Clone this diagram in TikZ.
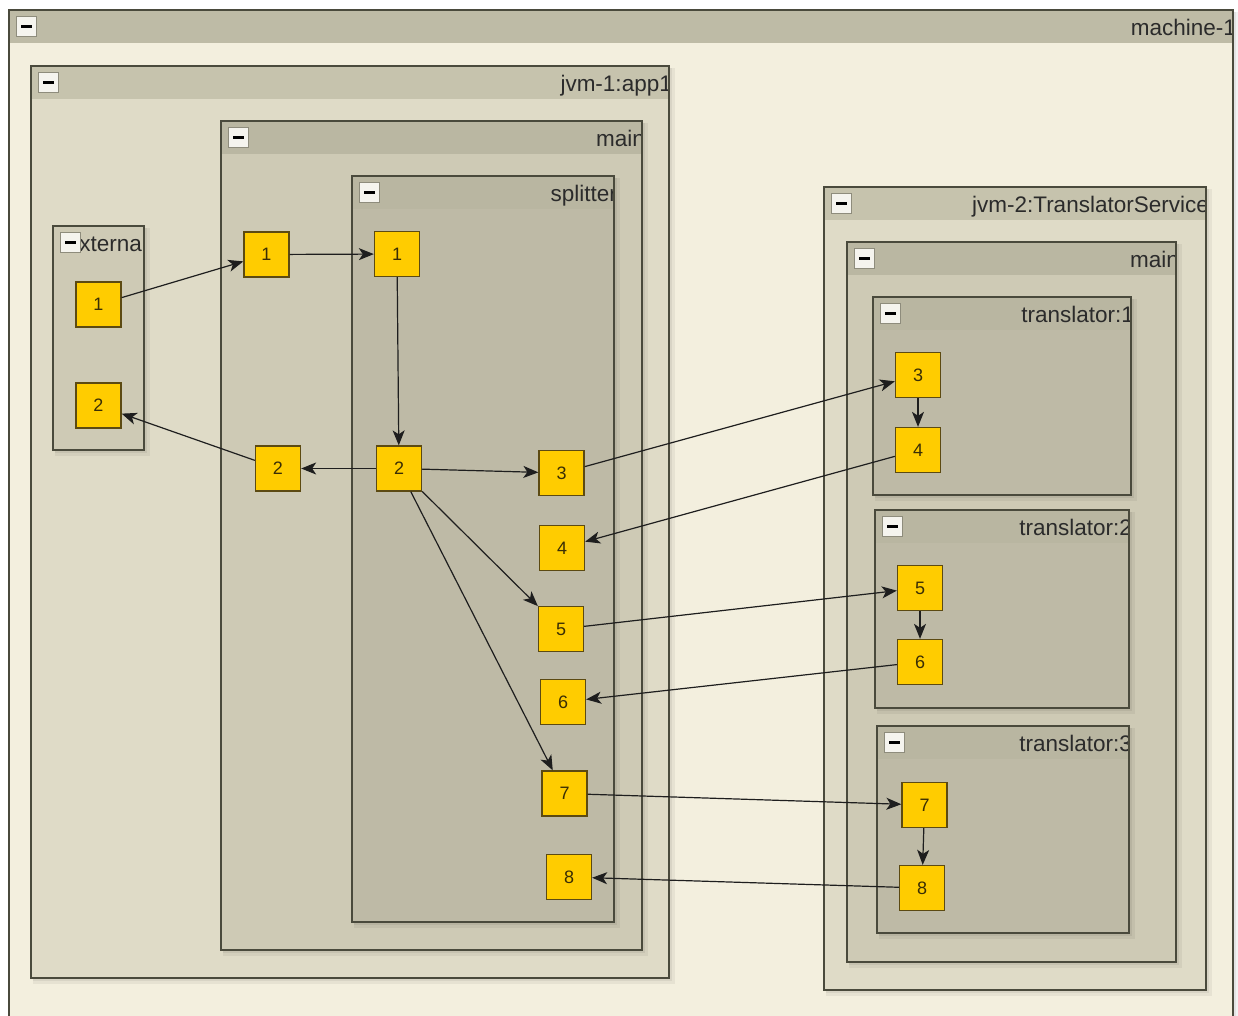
\documentclass[tikz,border=0pt]{standalone}
\usepackage{fontspec}
\setmainfont{Liberation Sans}
\usetikzlibrary{arrows.meta}

\definecolor{machinebg}{HTML}{F3EFDE}
\definecolor{machinehd}{HTML}{BEBBA6}
\definecolor{jvmbg}{HTML}{DFDBC7}
\definecolor{jvmhd}{HTML}{C6C3AD}
\definecolor{threadbg}{HTML}{CECAB5}
\definecolor{threadhd}{HTML}{BAB7A2}
\definecolor{taskbg}{HTML}{BEBAA6}
\definecolor{taskhd}{HTML}{B9B6A1}
\definecolor{framecol}{HTML}{4A4A3C}
\definecolor{iconfill}{HTML}{F5F4EE}
\definecolor{iconline}{HTML}{8E8C7C}
\definecolor{portfill}{HTML}{FFCC00}
\definecolor{portline}{HTML}{5C4A12}
\definecolor{porttext}{HTML}{3A2E05}
\definecolor{wirecol}{HTML}{1E1E1E}
\definecolor{labelcol}{HTML}{2B2B2B}

\tikzset{
  frame/.style={draw=framecol, line width=1.3pt},
  boxlabel/.style={inner sep=0pt, text=labelcol, font=\fontsize{22.5}{27}\selectfont},
  minusicon/.style={draw=iconline, fill=iconfill, line width=0.8pt,
    minimum size=20pt, inner sep=0pt},
  port/.style={draw=portline, fill=portfill, line width=1.3pt,
    minimum size=45pt, inner sep=0pt, text=porttext,
    font=\fontsize{18}{21}\selectfont},
  wire/.style={draw=wirecol, line width=1.2pt,
    -{Stealth[length=15pt,width=12pt,inset=4pt]}},
}

% container with title bar, collapse toggle and clipped right-aligned title
% #1 name, #2 x1, #3 y1, #4 x2, #5 y2, #6 body colour, #7 header colour, #8 title
\newcommand{\groupbox}[8]{%
  \fill[black,opacity=.05] (#2+2,#3+2) rectangle (#4+6,#5+6);
  \fill[black,opacity=.06] (#2+2,#3+2) rectangle (#4+3,#5+3);
  \fill[#6] (#2,#3) rectangle (#4,#5);
  \fill[#7] (#2,#3) rectangle (#4,#3+33);
  \begin{scope}
    \clip (#2,#3) rectangle (#4,#5);
    \node[boxlabel, anchor=base east] (#1-title) at (#4+3,#3+25.5) {#8};
  \end{scope}
  \draw[frame] (#2,#3) rectangle (#4,#5);
  \node[minusicon] (#1-toggle) at (#2+17.5,#3+16.5) {\rule{11pt}{3pt}};
}

\begin{document}
\begin{tikzpicture}[x=1pt,y=-1pt]
  \useasboundingbox (0,0) rectangle (1238,1016);
  \clip (0,0) rectangle (1238,1016);
  \fill[white] (0,0) rectangle (1238,1016);

  % host
  \groupbox{machine}{9}{10}{1233}{1040}{machinebg}{machinehd}{machine-1}

  % first JVM
  \groupbox{jvmA}{31}{66}{669}{978}{jvmbg}{jvmhd}{jvm-1:app1}
  \groupbox{ext}{53}{226}{144}{450}{threadbg}{threadbg}{external}
  \groupbox{mainA}{221}{121}{642}{950}{threadbg}{threadhd}{main}
  \groupbox{splitter}{352}{176}{614}{922}{taskbg}{taskhd}{splitter}

  % second JVM
  \groupbox{jvmB}{824}{187}{1206}{990}{jvmbg}{jvmhd}{jvm-2:TranslatorService}
  \groupbox{mainB}{847}{242}{1176}{962}{threadbg}{threadhd}{main}
  \groupbox{trA}{873}{297}{1131}{495}{taskbg}{taskhd}{translator:1}
  \groupbox{trB}{875}{510}{1129}{708}{taskbg}{taskhd}{translator:2}
  \groupbox{trC}{877}{726}{1129}{933}{taskbg}{taskhd}{translator:3}

  % ports
  \node[port] (e1) at (98.5,304.5) {1};
  \node[port] (e2) at (98.5,405.5) {2};
  \node[port] (m1) at (266.5,254.5) {1};
  \node[port] (m2) at (278,468.5) {2};
  \node[port] (s1) at (397,254) {1};
  \node[port] (s2) at (399,468.5) {2};
  \node[port] (s3) at (561.5,473) {3};
  \node[port] (s4) at (562,548) {4};
  \node[port] (s5) at (561,629) {5};
  \node[port] (s6) at (563,702) {6};
  \node[port] (s7) at (564.5,793.5) {7};
  \node[port] (s8) at (569,877) {8};
  \node[port] (t3) at (918,375) {3};
  \node[port] (t4) at (918,450) {4};
  \node[port] (t5) at (920,588) {5};
  \node[port] (t6) at (920,662) {6};
  \node[port] (t7) at (924.5,805) {7};
  \node[port] (t8) at (922,888) {8};

  % message flow
  \draw[wire] (e1) -- (m1);
  \draw[wire] (m1) -- (s1);
  \draw[wire] (s1) -- (s2);
  \draw[wire] (s2) -- (m2);
  \draw[wire] (m2) -- (e2);
  \draw[wire] (s2) -- (s3);
  \draw[wire] (s2) -- (s5);
  \draw[wire] (s2) -- (s7);
  \draw[wire] (s3) -- (t3);
  \draw[wire] (t3) -- (t4);
  \draw[wire] (t4) -- (s4);
  \draw[wire] (s5) -- (t5);
  \draw[wire] (t5) -- (t6);
  \draw[wire] (t6) -- (s6);
  \draw[wire] (s7) -- (t7);
  \draw[wire] (t7) -- (t8);
  \draw[wire] (t8) -- (s8);
\end{tikzpicture}
\end{document}
